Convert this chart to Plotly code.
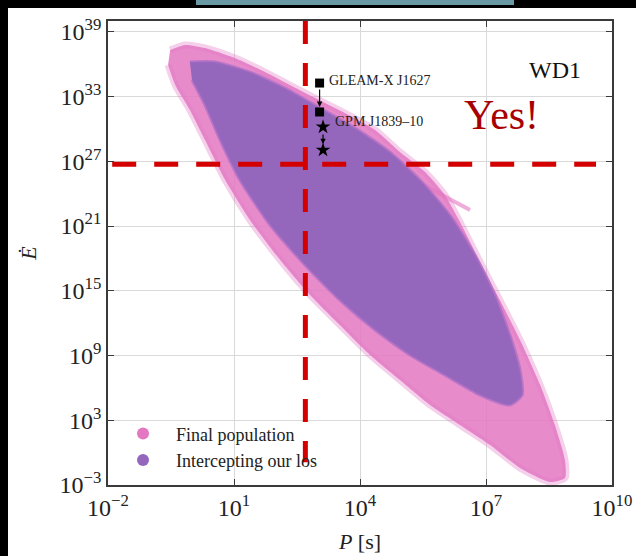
import numpy as np
import plotly.graph_objects as go

# ---- population envelopes (log10 P [s], log10 Edot) ----
final_logP = [-0.52, -0.17, 0.31, 1.02, 1.74, 2.33, 2.93, 3.64, 4.36, 4.95, 5.55, 6.02, 6.38,
              6.86, 7.33, 7.81, 8.29, 8.64, 8.88, 8.88, 8.52, 7.81, 7.10, 6.38,
              5.67, 4.95, 4.24, 3.52, 2.81, 2.10, 1.38, 0.79, 0.31, -0.05, -0.40, -0.57]
final_logE = [37.31, 37.78, 37.50, 36.57, 35.27, 34.07, 32.86, 31.47, 29.90, 27.86, 26.00, 23.87, 21.37,
              17.66, 14.14, 10.44, 6.27, 2.56, -0.69, -2.35, -2.72, -1.43, 0.70, 2.56,
              4.41, 6.73, 9.05, 11.83, 14.61, 17.85, 21.56, 25.26, 28.97, 31.75, 34.07, 35.92]

# thin streak running along the upper edge of the population
streak_logP = [4.83, 5.70, 6.62]
streak_logE = [26.38, 24.40, 22.49]

los_logP = [-0.05, 0.55, 1.38, 2.21, 3.05, 3.88, 4.71, 5.43, 6.14, 6.74, 7.21, 7.57, 7.81,
            7.86, 7.57, 6.86, 6.02, 5.19, 4.36, 3.52, 2.69, 1.86, 1.14, 0.67, 0.31, 0.00]
los_logE = [36.20, 36.20, 35.27, 33.79, 31.94, 30.08, 27.86, 25.26, 22.02, 18.31, 14.61, 10.90, 7.66,
            5.34, 4.41, 5.34, 7.19, 9.05, 11.36, 14.14, 17.39, 21.09, 25.26, 28.97, 32.21, 34.53]

# ---- observed long-period radio transients ----
gleam_name = "GLEAM-X J1627"
gleam_P = [1091, 1091]
gleam_logE = [34.25, 31.57]
gpm_name = "GPM J1839\u201310"
gpm_P = [1318, 1318]
gpm_logE = [30.18, 28.04]

# ---- cuts ----
P_cut = 500.0
Edot_cut = 5.2e26
cut_logP_span = [-1.9, 9.62]
cut_logE_span = [40.0, -0.9]

# ---- axis ticks ----
x_tick_exp = [-2, 1, 4, 7, 10]
y_tick_exp = [-3, 3, 9, 15, 21, 27, 33, 39]

PINK = "#e377c2"
PURPLE = "#9467bd"
RED = "#d40000"
FONT = "Liberation Serif"


def sup(e):
    s = str(e).replace("-", "\u2212")
    return f"10<sup>{s}</sup>"


fig = go.Figure()

# full population
fig.add_trace(go.Scatter(
    x=10 ** np.array(final_logP), y=10 ** np.array(final_logE),
    mode="lines", fill="toself", fillcolor="rgba(227,119,194,0.85)",
    line=dict(color="rgba(227,119,194,0.35)", width=7, shape="spline", smoothing=0.6),
    hoverinfo="skip", showlegend=False))
fig.add_trace(go.Scatter(
    x=10 ** np.array(streak_logP), y=10 ** np.array(streak_logE),
    mode="lines", line=dict(color="rgba(227,119,194,0.6)", width=4, shape="spline"),
    hoverinfo="skip", showlegend=False))

# intercepting our line of sight
fig.add_trace(go.Scatter(
    x=10 ** np.array(los_logP), y=10 ** np.array(los_logE),
    mode="lines", fill="toself", fillcolor=PURPLE,
    line=dict(color="rgba(160,105,195,0.6)", width=3, shape="spline", smoothing=0.6),
    hoverinfo="skip", showlegend=False))

# legend entries
fig.add_trace(go.Scatter(x=[None], y=[None], mode="markers", name="Final population",
                         marker=dict(color=PINK, size=12)))
fig.add_trace(go.Scatter(x=[None], y=[None], mode="markers", name="Intercepting our los",
                         marker=dict(color=PURPLE, size=12)))

# sources
fig.add_trace(go.Scatter(x=gleam_P, y=10 ** np.array(gleam_logE), mode="markers",
                         marker=dict(symbol="square", color="black", size=9),
                         showlegend=False, hoverinfo="skip"))
fig.add_trace(go.Scatter(x=gpm_P, y=10 ** np.array(gpm_logE), mode="markers",
                         marker=dict(symbol="star", color="black", size=11),
                         showlegend=False, hoverinfo="skip"))

# dashed cut lines
fig.add_trace(go.Scatter(x=[P_cut, P_cut], y=10 ** np.array(cut_logE_span), mode="lines",
                         line=dict(color=RED, width=5, dash="23px,19px"),
                         showlegend=False, hoverinfo="skip", cliponaxis=False))
fig.add_trace(go.Scatter(x=10 ** np.array(cut_logP_span), y=[Edot_cut, Edot_cut], mode="lines",
                         line=dict(color=RED, width=5, dash="24px,18px"),
                         showlegend=False, hoverinfo="skip", cliponaxis=False))

annotations = []
# arrows between the two estimates of each source
for P, logE, size in [(gleam_P, gleam_logE, 5), (gpm_P, gpm_logE, 6)]:
    annotations.append(dict(
        x=np.log10(P[1]), y=logE[1], ax=np.log10(P[0]), ay=logE[0],
        xref="x", yref="y", axref="x", ayref="y", text="",
        showarrow=True, arrowhead=2, arrowsize=0.9, arrowwidth=1.2, arrowcolor="black",
        standoff=size, startstandoff=size))
annotations += [
    dict(x=np.log10(gleam_P[0]), y=gleam_logE[0], xref="x", yref="y", text=gleam_name,
         showarrow=False, xanchor="left", yanchor="middle", xshift=7, yshift=3,
         font=dict(size=14, color="#222")),
    dict(x=np.log10(gpm_P[0]), y=gpm_logE[0], xref="x", yref="y", text=gpm_name,
         showarrow=False, xanchor="left", yanchor="middle", xshift=10, yshift=5,
         font=dict(size=14, color="#222")),
    dict(x=0.887, y=0.894, xref="paper", yref="paper", text="WD1", showarrow=False,
         xanchor="center", yanchor="middle", font=dict(size=24, color="#111")),
    dict(x=0.78, y=0.797, xref="paper", yref="paper", text="Yes!", showarrow=False,
         xanchor="center", yanchor="middle", font=dict(size=42, color="#a80000")),
]

axis_common = dict(
    showline=True, linecolor="#3a3a3a", linewidth=1.6, mirror="ticks",
    ticks="inside", ticklen=6, tickwidth=1.2, tickcolor="#3a3a3a",
    showgrid=True, gridcolor="#d9d9d9", gridwidth=1, zeroline=False,
    automargin=False, tickfont=dict(size=24, color="#222"))

fig.update_layout(
    width=636, height=556,
    margin=dict(l=108, r=24, t=21, b=71),
    paper_bgcolor="white", plot_bgcolor="white",
    font=dict(family=FONT, color="#222"),
    xaxis=dict(type="log", range=[-2, 10], tickmode="array",
               tickvals=[10.0 ** e for e in x_tick_exp], ticktext=[sup(e) for e in x_tick_exp],
               title=dict(text="<i>P</i> [s]", font=dict(size=22), standoff=14),
               **axis_common),
    yaxis=dict(type="log", range=[-3, 40], tickmode="array",
               tickvals=[10.0 ** e for e in y_tick_exp], ticktext=[sup(e) for e in y_tick_exp],
               title=dict(text="<i>\u0116</i>", font=dict(size=22), standoff=17),
               **axis_common),
    legend=dict(x=0.004, y=0.15, xanchor="left", yanchor="top", bgcolor="rgba(0,0,0,0)",
                font=dict(size=18), itemwidth=56, tracegroupgap=0),
    annotations=annotations,
    shapes=[
        dict(type="rect", xref="paper", yref="paper", xsizemode="pixel", ysizemode="pixel",
             xanchor=0, yanchor=1, x0=-108, x1=-100, y0=-540, y1=21,
             fillcolor="black", line=dict(width=0), layer="above"),
        dict(type="rect", xref="paper", yref="paper", xsizemode="pixel", ysizemode="pixel",
             xanchor=0, yanchor=1, x0=-108, x1=528, y0=13, y1=21,
             fillcolor="black", line=dict(width=0), layer="above"),
        dict(type="rect", xref="paper", yref="paper", xsizemode="pixel", ysizemode="pixel",
             xanchor=0, yanchor=1, x0=88, x1=406, y0=16, y1=21,
             fillcolor="#6a9aa3", line=dict(width=0), layer="above"),
    ],
)

fig.write_html("out.html")
